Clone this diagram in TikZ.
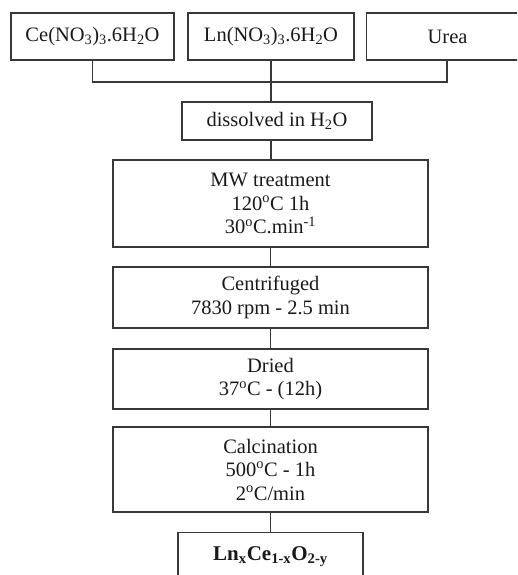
\documentclass[tikz,border=0pt]{standalone}
\usepackage{fontspec}
\setmainfont{Liberation Serif}
\begin{document}
\begin{tikzpicture}[x=1pt,y=-1pt,
  box/.style={draw=black!78, line width=1.2pt, rectangle, inner sep=0pt, align=center,
    font=\fontsize{20.5}{23.5}\selectfont, text=black!90},
  conn/.style={draw=black!78, line width=1.2pt}]
\useasboundingbox (0,0) rectangle (517,575);
\clip (0,0) rectangle (517,575);
\node[box, minimum width=163pt, minimum height=47pt] (b1) at (92.5,36.5) {Ce(NO\textsubscript{3})\textsubscript{3}.6H\textsubscript{2}O};
\node[box, minimum width=166pt, minimum height=47pt] (b2) at (271,36.5) {Ln(NO\textsubscript{3})\textsubscript{3}.6H\textsubscript{2}O};
\node[box, minimum width=200pt, minimum height=47pt, anchor=west] (b3) at (366,36.5) {Urea\hspace*{38pt}};
\node[box, minimum width=190pt, minimum height=38pt] (d) at (277,121) {dissolved in H\textsubscript{2}O};
\node[box, minimum width=315pt, minimum height=87pt] (mw) at (270.5,203.5) {MW treatment\\120\textsuperscript{o}C 1h\\30\textsuperscript{o}C.min\textsuperscript{-1}};
\node[box, minimum width=315pt, minimum height=61pt] (cf) at (270.5,297.5) {Centrifuged\\7830 rpm - 2.5 min};
\node[box, minimum width=315pt, minimum height=60pt] (dr) at (270.5,379) {Dried\\37\textsuperscript{o}C - (12h)};
\node[box, minimum width=315pt, minimum height=85pt] (ca) at (270.5,469.5) {Calcination\\500\textsuperscript{o}C - 1h\\2\textsuperscript{o}C/min};
\node[box, minimum width=185pt, text height=28pt, text depth=30pt, anchor=north, font=\fontsize{21}{24}\selectfont\bfseries] (fin) at (270.5,532) {Ln\textsubscript{x}Ce\textsubscript{1-x}O\textsubscript{2-y}};
\coordinate (bus) at (271,82);
\coordinate (u) at ([xshift=81pt]b3.south west);
\draw[conn] (b1.south) -- (b1.south |- bus) -- (u |- bus) -- (u);
\draw[conn] (b2.south) -- (b2.south |- d.north);
\draw[conn] (b2.south |- d.south) -- (b2.south |- mw.north);
\draw[conn] (mw.south) -- (cf.north);
\draw[conn] (cf.south) -- (dr.north);
\draw[conn] (dr.south) -- (ca.north);
\draw[conn] (ca.south) -- (fin.north);
\end{tikzpicture}
\end{document}
